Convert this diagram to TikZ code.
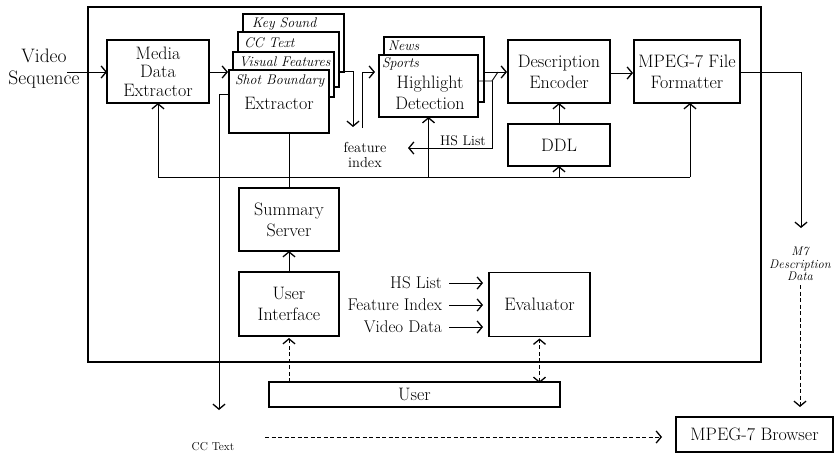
\documentclass[tikz,border=0pt]{standalone}
\usepackage{fontspec}
\usetikzlibrary{arrows.meta}
\begin{document}
\begin{tikzpicture}[x=1pt,y=-1pt,
  every node/.style={inner sep=0pt, outer sep=0pt},
  box/.style={draw, line width=1.1pt, fill=white, align=center, font=\fontsize{18}{21}\selectfont},
  sheet/.style={draw, line width=1.1pt, fill=white},
  lab/.style={font=\fontsize{17}{19}\selectfont},
  itl/.style={font=\fontsize{14}{15}\selectfont\itshape},
  conn/.style={line width=0.9pt},
  arr/.style={conn, -{Straight Barb[length=5pt,width=12pt,line width=1.3pt]}},
  darr/.style={arr, dash pattern=on 4pt off 2.5pt},
  dbarr/.style={conn, dash pattern=on 4pt off 2.5pt, {Straight Barb[length=5pt,width=12pt,line width=1.3pt]}-{Straight Barb[length=5pt,width=12pt,line width=1.3pt]}},
  frame/.style={draw, line width=1.6pt}
]
\useasboundingbox (0,0) rectangle (834,458);

% frame
\node[frame, minimum width=673pt, minimum height=355pt] (fr) at (424.5,184.5) {};

% input
\node[align=center, font=\fontsize{19.5}{22}\selectfont] (vs) at (44,69) {Video\\Sequence};
\coordinate (vsout) at (67,72);
\node[box, minimum width=102pt, minimum height=63pt, font=\fontsize{18}{18.5}\selectfont] (mde) at (158,71.5) {Media\\Data\\Extractor};

% extractor stack
\node[sheet, minimum width=101pt, minimum height=58pt] (ks) at (293.5,43) {};
\node[sheet, minimum width=101pt, minimum height=55pt] (cc) at (288.5,59.5) {};
\node[sheet, minimum width=101pt, minimum height=45pt] (vf) at (283.5,74.5) {};
\node[sheet, minimum width=100pt, minimum height=63pt] (sb) at (279,101.5) {};
\node[itl, anchor=west] (ksl) at (252,24) {Key Sound};
\node[itl, anchor=west] (ccl) at (244,43) {CC Text};
\node[itl, anchor=west] (vfl) at (239,62) {Visual Features};
\node[itl, anchor=west] (sbl) at (235,81) {Shot Boundary};
\node[box, draw=none, fill=none] (ext) at (279,103) {Extractor};

% highlight stack
\node[sheet, minimum width=100pt, minimum height=65pt] (news) at (434,69.5) {};
\node[sheet, minimum width=99pt, minimum height=62pt] (sports) at (428.5,86) {};
\node[anchor=west, font=\fontsize{14}{15}\selectfont\itshape] (newsl) at (388,46) {News};
\node[anchor=west, font=\fontsize{14}{15}\selectfont\itshape] (sportsl) at (382,64) {Sports};
\node[box, draw=none, fill=none] (hd) at (430,93) {Highlight\\Detection};

% right blocks
\node[box, minimum width=102pt, minimum height=63pt] (de) at (559,71.5) {Description\\Encoder};
\node[box, minimum width=106pt, minimum height=63pt] (mff) at (687,71.5) {MPEG-7 File\\Formatter};
\node[box, minimum width=102pt, minimum height=42pt] (ddl) at (559,145) {DDL};

% lower blocks
\node[box, minimum width=100pt, minimum height=63pt] (ss) at (289,219.5) {Summary\\Server};
\node[box, minimum width=100pt, minimum height=64pt] (ui) at (289,304) {User\\Interface};
\node[box, minimum width=101pt, minimum height=64pt] (ev) at (539.5,304.5) {Evaluator};
\node[box, minimum width=291pt, minimum height=25pt] (user) at (414.5,394.5) {User};
\node[box, minimum width=157pt, minimum height=35pt] (br) at (754.5,434.5) {MPEG-7 Browser};

% labels
\node[lab, anchor=east] (l1) at (442,283) {HS List};
\node[lab, anchor=east] (l2) at (442,305) {Feature Index};
\node[lab, anchor=east] (l3) at (442,327) {Video Data};
\node[align=center, font=\fontsize{14.5}{15}\selectfont] (fi) at (365,155) {feature\\index};
\node[font=\fontsize{14}{15}\selectfont] (hsl) at (463,141) {HS List};
\node[align=center, font=\fontsize{12.5}{12.5}\selectfont\itshape] (m7) at (800,264) {M7\\Description\\Data};
\node[font=\fontsize{11.5}{13}\selectfont] (cct) at (213,447) {CC Text};

% coordinates
\coordinate (fidown) at (353,127);
\coordinate (fiup) at (362,128);
\coordinate (hdo) at (484,72);
\coordinate (hsb) at (492,81);
\coordinate (hsend) at (408,148);
\coordinate (bl) at (158,177);
\coordinate (brr) at (690,177);
\coordinate (ccdown) at (219,410);
\coordinate (ccs) at (265,437);
\coordinate (cce) at (662,437);
\coordinate (m7a) at (801,228);
\coordinate (m7s) at (800,285);
\coordinate (m7e) at (800,407);

% connectors
\draw[arr] (vsout) -- (mde.west |- vsout);
\draw[arr] (mde.east |- 0,72) -- ([xshift=-1pt]sb.west |- 0,72);
\draw[arr] (ks.east |- 0,71) -- (fidown |- 0,71) -- (fidown);
\draw[arr] (fiup) -- (fiup |- 0,72) -- ([xshift=-4pt]sports.west |- 0,72);
\draw[arr] (hdo) -- ([xshift=-1pt]de.west |- hdo);
\draw[conn] (sports.east |- hsb) -- (hsb) -- (498,72);
\draw[arr] (hsb) -- (hsb |- hsend) -- (hsend);
\draw[conn] (bl) -- (brr);
\draw[arr] (bl) -- (mde.south);
\draw[arr] (sports.south |- bl) -- (sports.south);
\draw[arr] (ddl.south |- bl) -- (ddl.south);
\draw[arr] (brr) -- (brr |- mff.south);
\draw[arr] (ddl.north) -- (de.south);
\draw[arr] (de.east |- 0,73) -- ([xshift=-1pt]mff.west |- 0,73);
\draw[conn] (ss.north |- sb.south) -- (ss.north);
\draw[arr] (sb.west |- 0,94) -- (ccdown |- 0,94) -- (ccdown);
\draw[darr] (ccs) -- (cce);
\draw[arr] (mff.east |- 0,72) -- (m7a |- 0,72) -- (m7a);
\draw[darr] (m7s) -- (m7e);
\draw[arr] (ui.north) -- (ss.south);
\draw[darr] (user.north -| ui.south) -- ([yshift=-2pt]ui.south);
\draw[dbarr] ([yshift=-1pt]user.north -| ev.south) -- ([yshift=-2pt]ev.south);
\draw[arr, shorten <=7pt, shorten >=6pt] (l1.east) -- (ev.west |- l1.east);
\draw[arr, shorten <=7pt, shorten >=6pt] (l2.east) -- (ev.west |- l2.east);
\draw[arr, shorten <=7pt, shorten >=6pt] (l3.east) -- (ev.west |- l3.east);
\end{tikzpicture}
\end{document}
